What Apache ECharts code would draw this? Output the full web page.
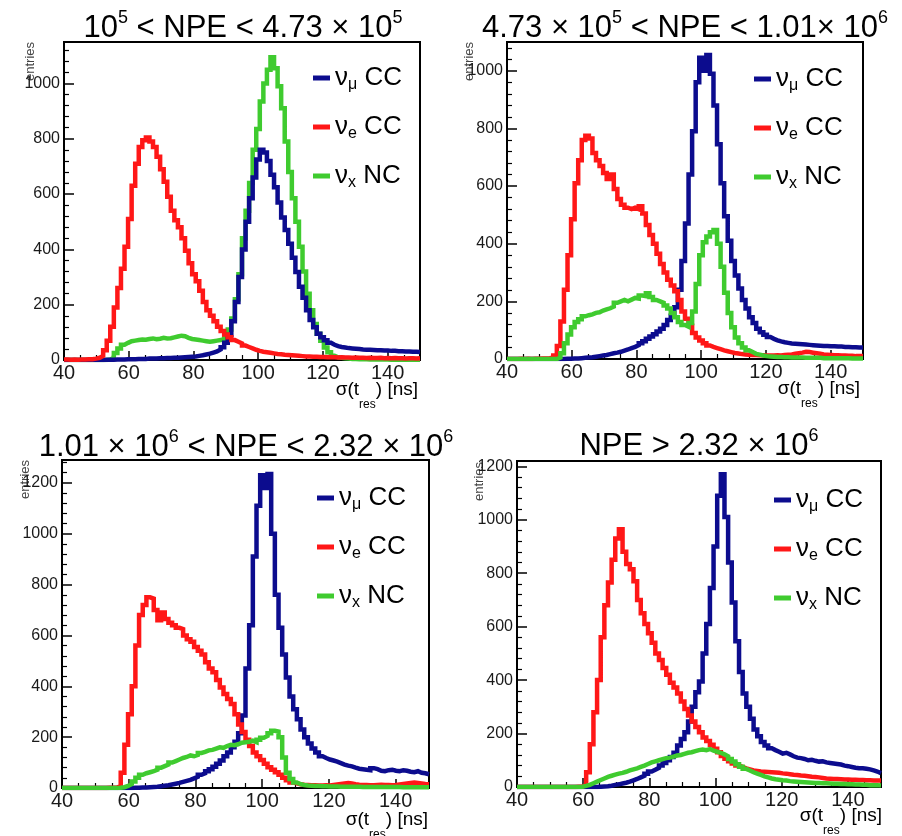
<!DOCTYPE html>
<html>
<head>
<meta charset="utf-8">
<script src="https://cdn.jsdelivr.net/npm/echarts@6/dist/echarts.min.js"></script>
<style>
  html, body { margin: 0; padding: 0; background: #ffffff; }
  #chart { width: 902px; height: 836px; }
</style>
</head>
<body>
<div id="chart"></div>
<script>
// Histogram binning of sigma(t_res): 100 bins between 40 and 150 ns
const nBins = 100;
const tLow = 40;
const tHigh = 150;
const binEdges = Array.from({ length: nBins + 1 }, (_, i) => +(tLow + i * (tHigh - tLow) / nBins).toFixed(2));

// Series names (nu_mu CC, nu_e CC, nu_x NC)
const seriesKeys = ['numu', 'nue', 'nux'];
const seriesNames = { numu: 'νμ CC', nue: 'νe CC', nux: 'νx NC' };
const legendText = {
  'νμ CC': '{n|ν}{s|μ}{n| CC}',
  'νe CC': '{n|ν}{s|e}{n| CC}',
  'νx NC': '{n|ν}{s|x}{n| NC}'
};

// Panel titles (NPE ranges)
const panelTitles = [
  '{n|10}{p|5}{n| < NPE < 4.73 × 10}{p|5}',
  '{n|4.73 × 10}{p|5}{n| < NPE < 1.01× 10}{p|6}',
  '{n|1.01 × 10}{p|6}{n| < NPE < 2.32 × 10}{p|6}',
  '{n|NPE > 2.32 × 10}{p|6}'
];

// Upper end of the entries axis in each panel
const yMaxima = [1150, 1100, 1290, 1220];

// ---- 10^5 < NPE < 4.73e5 ----
const p1Numu = [
  0,0,0,0,0,0,0,0,0,0,
  0,1,1,1,2,2,2,3,3,3,
  4,4,4,5,5,5,6,6,7,7,
  8,8,9,10,11,12,13,15,17,20,
  23,27,31,38,46,62,90,140,210,300,
  400,500,585,660,725,760,750,720,670,625,
  570,515,470,420,370,318,265,225,180,145,
  118,95,82,71,62,55,50,47,45,43,
  42,41,40,38,37,37,36,35,35,34,
  34,33,33,32,32,31,31,30,30,29
];
const p1Nue = [
  2,1,2,1,2,2,3,3,5,8,
  15,35,70,120,190,260,330,410,510,630,
  710,770,795,805,790,770,735,690,645,590,
  540,505,480,440,395,350,310,285,250,210,
  180,160,140,120,105,92,82,72,66,60,
  52,47,42,37,33,30,28,26,24,22,
  21,19,18,17,16,15,14,13,13,12,
  12,11,11,10,11,10,9,10,9,9,
  8,9,8,8,7,8,7,7,8,6,
  7,6,7,6,6,5,6,6,5,6
];
const p1Nux = [
  0,0,0,0,0,0,0,0,0,0,
  0,0,2,8,25,42,55,62,68,70,
  72,74,73,76,78,75,77,80,78,79,
  82,85,88,86,80,76,74,72,70,68,
  66,68,70,72,76,88,110,150,220,310,
  440,540,640,760,835,935,1000,1050,1095,1055,
  990,910,790,680,585,500,410,320,240,180,
  130,95,70,45,28,15,10,8,6,5,
  4,4,3,3,3,2,2,2,2,2,
  2,1,1,1,1,1,1,1,1,1
];

// ---- 4.73e5 < NPE < 1.01e6 ----
const p2Numu = [
  0,0,0,0,0,0,0,0,0,0,
  0,0,0,0,0,0,1,1,2,2,
  3,4,5,6,8,10,12,14,17,20,
  22,25,29,33,38,42,48,55,62,70,
  78,86,95,105,118,135,150,180,240,340,
  470,640,790,960,1045,1000,1055,990,880,745,
  610,495,410,340,290,245,205,175,145,125,
  105,93,84,76,70,65,61,58,56,54,
  53,52,51,50,49,48,47,46,45,45,
  44,44,43,43,42,42,41,41,40,40
];
const p2Nue = [
  0,0,0,1,0,1,0,1,1,2,
  2,3,5,12,45,130,240,360,485,610,
  690,760,775,765,715,690,670,645,625,640,
  590,555,535,525,520,525,520,530,505,465,
  430,400,365,330,300,275,255,235,205,165,
  140,115,90,75,64,55,47,42,38,34,
  30,27,24,21,19,17,16,15,14,14,
  13,13,12,12,12,13,12,14,15,16,
  18,20,22,25,24,22,20,18,16,15,
  14,13,13,12,12,11,11,10,10,10
];
const p2Nux = [
  0,0,0,0,0,0,0,0,0,0,
  0,0,0,0,5,20,55,85,110,128,
  138,148,152,155,160,162,168,172,176,182,
  195,200,205,200,206,212,210,220,218,228,
  215,205,200,195,186,175,160,145,128,118,
  112,125,165,260,360,405,425,440,448,400,
  320,230,160,110,75,55,40,30,24,18,
  15,12,10,9,8,7,7,6,6,5,
  5,5,5,4,4,4,4,4,3,3,
  3,3,3,3,3,3,2,2,2,2
];

// ---- 1.01e6 < NPE < 2.32e6 ----
const p3Numu = [
  0,0,0,0,0,0,0,0,0,0,
  0,0,0,0,0,0,0,0,0,1,
  1,2,2,3,4,5,7,9,11,14,
  17,20,24,28,32,38,44,52,58,66,
  74,84,95,108,125,140,160,182,215,285,
  470,640,910,1110,1230,1180,1235,1000,760,630,
  525,435,360,310,270,230,200,175,155,140,
  125,118,112,108,104,98,92,88,85,80,
  76,74,72,70,78,74,68,66,70,72,
  68,66,70,68,64,62,66,60,58,54
];
const p3Nue = [
  0,0,0,0,0,0,0,0,0,0,
  0,0,1,1,2,8,60,170,290,400,
  560,680,720,750,745,700,660,690,665,650,
  640,630,625,600,585,575,555,540,525,495,
  470,455,425,395,370,350,330,290,250,220,
  190,165,140,125,110,95,82,72,62,52,
  40,30,22,18,15,13,12,11,11,10,
  10,11,10,12,14,16,18,20,18,15,
  13,12,12,11,11,12,13,12,12,11,
  12,14,16,18,20,22,20,18,16,15
];
const p3Nux = [
  0,0,0,0,0,0,0,0,0,0,
  0,0,0,0,0,1,3,8,15,26,
  40,52,58,62,66,72,80,86,92,100,
  106,112,118,122,128,125,130,138,142,148,
  150,155,160,158,165,170,168,172,178,180,
  182,186,180,190,198,205,215,225,222,200,
  120,60,35,22,15,12,10,9,8,8,
  7,7,6,6,6,5,5,5,5,5,
  5,4,4,4,4,4,4,4,4,4,
  4,4,3,3,3,3,3,3,3,3
];

// ---- NPE > 2.32e6 ----
const p4Numu = [
  0,0,0,0,0,0,0,0,0,0,
  0,0,0,0,0,0,0,0,0,0,
  0,0,1,2,3,5,8,10,13,16,
  20,25,30,36,42,50,58,65,72,80,
  90,100,112,128,155,180,205,245,300,355,
  395,500,610,745,900,1090,1170,1010,840,690,
  545,430,350,300,255,215,190,168,155,145,
  138,132,125,128,122,115,110,108,105,100,
  102,98,95,96,92,90,88,86,84,80,
  78,75,72,70,70,68,66,62,58,52
];
const p4Nue = [
  0,0,0,0,0,0,0,0,0,0,
  0,0,0,0,0,0,1,2,8,55,
  160,280,400,560,680,765,850,930,965,880,
  835,815,770,700,650,610,575,540,500,475,
  445,420,390,372,350,320,292,268,245,225,
  205,185,172,158,143,130,116,106,96,88,
  80,75,70,66,62,60,58,57,56,55,
  54,53,51,50,48,46,45,43,42,40,
  38,37,36,34,32,31,30,30,29,28,
  28,27,27,26,26,25,25,24,24,24
];
const p4Nux = [
  0,0,0,0,0,0,0,0,0,0,
  0,0,0,0,0,0,0,1,4,8,
  14,20,26,32,38,42,46,50,53,57,
  62,66,70,75,80,86,92,96,100,104,
  108,110,114,118,120,124,128,130,134,138,
  140,138,142,136,132,128,122,115,105,95,
  85,76,68,62,55,50,45,40,36,32,
  29,27,25,24,22,21,20,19,18,17,
  16,15,15,14,14,13,12,12,11,11,
  10,10,9,9,8,8,7,7,7,6
];

const panelData = [
  { numu: p1Numu, nue: p1Nue, nux: p1Nux },
  { numu: p2Numu, nue: p2Nue, nux: p2Nux },
  { numu: p3Numu, nue: p3Nue, nux: p3Nux },
  { numu: p4Numu, nue: p4Nue, nux: p4Nux }
];

// ---------------- styling / layout ----------------
const FONT = '"Liberation Sans", Arial, Helvetica, sans-serif';
const colors = { numu: '#0c0c8e', nue: '#ff1717', nux: '#3fcb2f' };
// drawing order (last one on top)
const drawOrder = [
  ['nux', 'numu', 'nue'],
  ['numu', 'nue', 'nux'],
  ['numu', 'nue', 'nux'],
  ['numu', 'nue', 'nux']
];
const gridBoxes = [
  { left: 64, top: 42, width: 356, height: 318 },
  { left: 507, top: 42, width: 356, height: 317 },
  { left: 62, top: 460, width: 367, height: 328 },
  { left: 517, top: 461, width: 364, height: 326 }
];
const titlePos = [[243, 9], [685, 9], [246, 428], [699, 427]];
const legendPos = [[313, 65], [754, 66], [317, 485], [774, 487]];
const xTitlePos = [[418, 380], [860, 379], [428, 810], [882, 806]];
const entriesPos = [[30, 42], [469, 42], [25, 460], [479, 462]];

function histPoints(vals) {
  const pts = vals.map((v, i) => [binEdges[i], v]);
  pts.push([binEdges[nBins], vals[nBins - 1]]);
  return pts;
}

const grid = [], xAxis = [], yAxis = [], series = [], title = [], legend = [], graphic = [];

gridBoxes.forEach((box, k) => {
  grid.push(Object.assign({
    show: true, borderColor: '#000', borderWidth: 2,
    backgroundColor: 'transparent', containLabel: false, outerBoundsMode: 'none'
  }, box));

  xAxis.push({
    type: 'value', gridIndex: k, min: tLow, max: tHigh, interval: 20,
    axisLine: { show: true, onZero: false, lineStyle: { color: '#000', width: 2 } },
    axisTick: { show: true, inside: true, length: 9, lineStyle: { color: '#000', width: 1.5 } },
    minorTick: { show: true, splitNumber: 4, length: 5, lineStyle: { color: '#000', width: 1.2 } },
    splitLine: { show: false }, minorSplitLine: { show: false },
    axisLabel: {
      fontSize: 20, fontFamily: FONT, color: '#1a1a1a', margin: 3,
      showMaxLabel: false, hideOverlap: false, formatter: v => String(v)
    }
  });

  yAxis.push({
    type: 'value', gridIndex: k, min: 0, max: yMaxima[k], interval: 200,
    axisLine: { show: true, onZero: false, lineStyle: { color: '#000', width: 2 } },
    axisTick: { show: true, inside: true, length: 10, lineStyle: { color: '#000', width: 1.5 } },
    minorTick: { show: true, splitNumber: 5, length: 5, lineStyle: { color: '#000', width: 1.2 } },
    splitLine: { show: false }, minorSplitLine: { show: false },
    axisLabel: {
      fontSize: 16, fontFamily: FONT, color: '#1a1a1a', margin: 4,
      showMaxLabel: false, hideOverlap: false, formatter: v => String(v)
    }
  });

  drawOrder[k].forEach(key => {
    series.push({
      type: 'line', name: seriesNames[key], xAxisIndex: k, yAxisIndex: k,
      step: 'end', symbol: 'none', showSymbol: false,
      data: histPoints(panelData[k][key]),
      lineStyle: { color: colors[key], width: 4.5, join: 'miter' },
      itemStyle: { color: colors[key] },
      emphasis: { disabled: true },
      animation: false
    });
  });

  title.push({
    text: panelTitles[k], left: titlePos[k][0], top: titlePos[k][1], textAlign: 'center', padding: 0,
    textStyle: {
      fontWeight: 'normal', fontFamily: FONT, color: '#000',
      rich: {
        n: { fontSize: 31, lineHeight: 38, fontFamily: FONT, fontWeight: 'normal', color: '#000' },
        p: { fontSize: 18, lineHeight: 18, fontFamily: FONT, fontWeight: 'normal', color: '#000', verticalAlign: 'top' }
      }
    }
  });

  legend.push({
    show: true, orient: 'vertical', left: legendPos[k][0], top: legendPos[k][1], padding: 0,
    icon: 'rect', itemWidth: 17, itemHeight: 5, itemGap: 21, selectedMode: false,
    data: seriesKeys.map(key => seriesNames[key]),
    formatter: name => legendText[name],
    textStyle: {
      rich: {
        n: { fontSize: 26, lineHeight: 30, fontFamily: FONT, color: '#000' },
        s: { fontSize: 16, lineHeight: 16, fontFamily: FONT, color: '#000', verticalAlign: 'bottom' }
      }
    }
  });

  // x-axis title sigma(t_res) [ns]
  graphic.push({
    type: 'text', x: xTitlePos[k][0], y: xTitlePos[k][1], silent: true,
    style: {
      text: '{a|σ(t}{s|res}{a|) [ns]}',
      align: 'right', verticalAlign: 'top',
      rich: {
        a: { fontSize: 19, lineHeight: 24, fontFamily: FONT, fill: '#000', verticalAlign: 'top' },
        s: { fontSize: 12, lineHeight: 12, fontFamily: FONT, fill: '#000', verticalAlign: 'top', padding: [19, 0, 0, 0] }
      }
    }
  });

  // y-axis title "entries"
  graphic.push({
    type: 'text', x: entriesPos[k][0], y: entriesPos[k][1], rotation: Math.PI / 2, silent: true,
    style: { text: 'entries', fontSize: 13, fontFamily: FONT, fill: '#444', align: 'right', verticalAlign: 'middle' }
  });
});

const chart = echarts.init(document.getElementById('chart'), null, { renderer: 'canvas' });
chart.setOption({
  backgroundColor: '#ffffff',
  animation: false,
  title, legend, grid, xAxis, yAxis, series, graphic
});
</script>
</body>
</html>
